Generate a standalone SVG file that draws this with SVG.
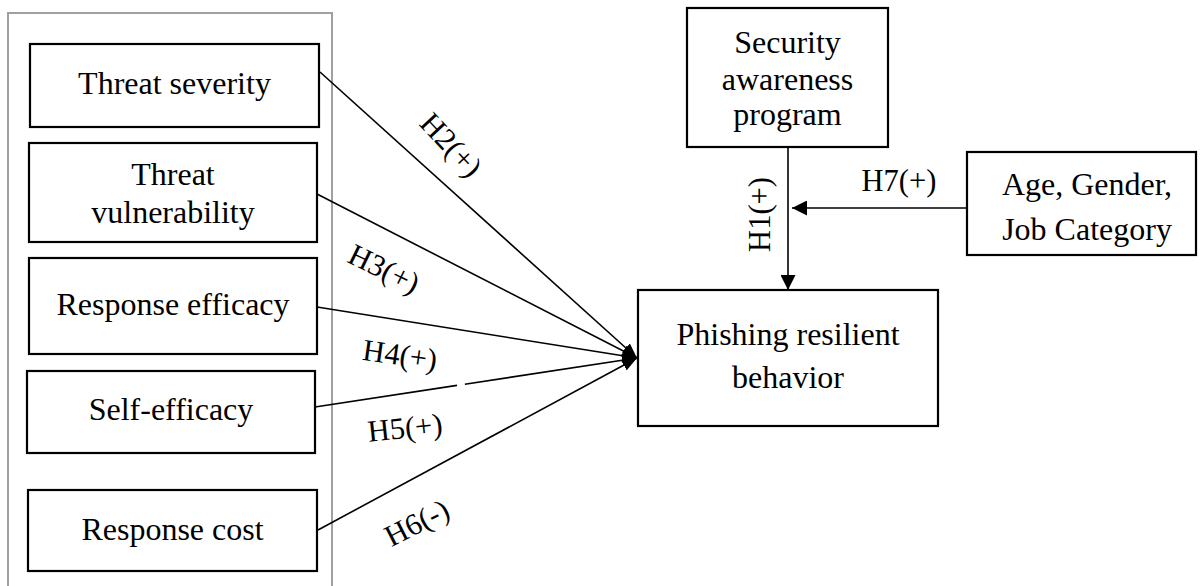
<svg xmlns="http://www.w3.org/2000/svg" width="1202" height="586" viewBox="0 0 1202 586">
<style>
.box{fill:#fff;stroke:#000;stroke-width:2.2}
.frame{fill:none;stroke:#a0a0a0;stroke-width:2}
.t{font-family:"Liberation Serif","Times New Roman",serif;font-size:32px;fill:#000;text-anchor:middle}
.l{font-family:"Liberation Serif","Times New Roman",serif;font-size:30.5px;fill:#000;text-anchor:middle}
.c{stroke:#000;stroke-width:1.6;fill:none}
</style>
<defs>
<marker id="ah" markerUnits="userSpaceOnUse" markerWidth="15" markerHeight="12" refX="15" refY="6" orient="auto">
<path d="M0,0 L15,6 L0,12 z" fill="#000"/>
</marker>
<marker id="ah2" markerUnits="userSpaceOnUse" markerWidth="15" markerHeight="15" refX="15" refY="7.5" orient="auto">
<path d="M0,0 L15,7.5 L0,15 z" fill="#000"/>
</marker>
</defs>
<rect class="frame" x="8" y="13" width="324" height="600"/>
<g id="connectors">
<line class="c" x1="320" y1="72" x2="637" y2="358" marker-end="url(#ah)"/>
<line class="c" x1="317" y1="194" x2="637" y2="358" marker-end="url(#ah)"/>
<line class="c" x1="317" y1="307" x2="637" y2="358" marker-end="url(#ah)"/>
<line class="c" x1="315" y1="407" x2="637" y2="358" stroke-dasharray="143.6 8 400" marker-end="url(#ah)"/>
<line class="c" x1="318" y1="530" x2="637" y2="358" marker-end="url(#ah)"/>
<line class="c" x1="788" y1="147" x2="788" y2="290" marker-end="url(#ah2)"/>
<line class="c" x1="967" y1="208" x2="792" y2="208" marker-end="url(#ah2)"/>
<text class="l" transform="translate(451,145) rotate(47)" x="0" y="10">H2(+)</text>
<text class="l" transform="translate(384,269) rotate(26)" x="0" y="10">H3(+)</text>
<text class="l" transform="translate(400,355) rotate(8)" x="0" y="10">H4(+)</text>
<text class="l" transform="translate(405,428) rotate(-6)" x="0" y="10">H5(+)</text>
<text class="l" transform="translate(417,523) rotate(-27)" x="0" y="10">H6(-)</text>
<text class="l" x="899" y="191">H7(+)</text>
<text class="l" transform="translate(770,214.5) rotate(-90)" x="0" y="0">H1(+)</text>
</g>
<g id="threat-severity">
<rect class="box" x="30" y="44" width="289" height="83"/>
<text class="t" x="174.5" y="94">Threat severity</text>
</g>
<g id="threat-vulnerability">
<rect class="box" x="29" y="143" width="288" height="99"/>
<text class="t" x="173" y="185">Threat</text>
<text class="t" x="173" y="223">vulnerability</text>
</g>
<g id="response-efficacy">
<rect class="box" x="29" y="258" width="288" height="96"/>
<text class="t" x="173" y="315">Response efficacy</text>
</g>
<g id="self-efficacy">
<rect class="box" x="27" y="371" width="288" height="82"/>
<text class="t" x="171" y="420">Self-efficacy</text>
</g>
<g id="response-cost">
<rect class="box" x="28" y="490" width="289" height="81"/>
<text class="t" x="172.5" y="540">Response cost</text>
</g>
<g id="security-awareness">
<rect class="box" x="687" y="8" width="201" height="139"/>
<text class="t" x="787.5" y="53">Security</text>
<text class="t" x="787.5" y="90">awareness</text>
<text class="t" x="787.5" y="125">program</text>
</g>
<g id="demographics">
<rect class="box" x="967" y="152" width="229" height="103"/>
<text class="t" x="1087" y="195">Age, Gender,</text>
<text class="t" x="1087" y="240">Job Category</text>
</g>
<g id="phishing-resilient">
<rect class="box" x="638" y="290" width="300" height="136"/>
<text class="t" x="788" y="345">Phishing resilient</text>
<text class="t" x="788" y="388">behavior</text>
</g>
</svg>
